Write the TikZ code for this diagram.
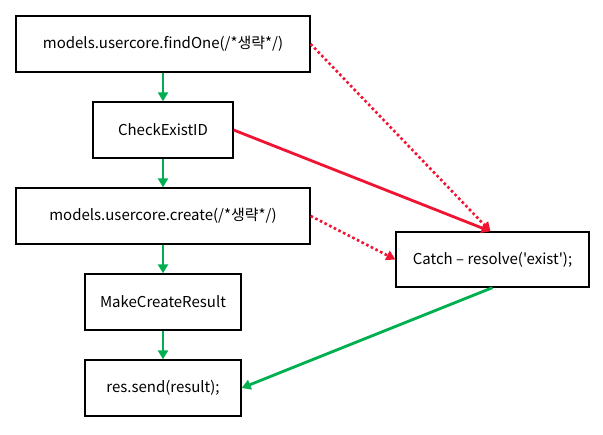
\documentclass[tikz,border=0pt]{standalone}
\usepackage{fontspec}
\setmainfont{Noto Sans CJK KR}[Ligatures=TeXOff]
\usetikzlibrary{arrows.meta}
\definecolor{ogreen}{RGB}{0,176,80}
\definecolor{ored}{RGB}{240,20,50}
\begin{document}
\begin{tikzpicture}[x=1pt,y=-1pt,
  box/.style={draw=black,line width=1.3pt,fill=white,minimum height=56pt,inner sep=0pt,font=\fontsize{15}{18}\selectfont},
  garrow/.style={draw=ogreen,line width=2.8pt,-{Triangle[length=9pt,width=10pt]}},
  rarrow/.style={draw=ored,line width=2.8pt,-{Triangle[length=9pt,width=10pt]}},
  rdot/.style={draw=ored,line width=2.6pt,dash pattern=on 2.6pt off 2.6pt,-{Triangle[length=9pt,width=10pt]}}]
\useasboundingbox (0,0) rectangle (603,435);
\node[box,minimum width=294pt] (b1) at (163,44) {models.usercore.findOne(/*생략*/)};
\node[box,minimum width=140pt] (b2) at (163,130) {CheckExistID};
\node[box,minimum width=294pt] (b3) at (163,216) {models.usercore.create(/*생략*/)};
\node[box,minimum width=156pt] (b4) at (163,302) {MakeCreateResult};
\node[box,minimum width=156pt] (b5) at (163,388) {res.send(result);};
\node[box,minimum width=193pt,minimum height=55pt] (c) at (492.5,259.5) {Catch – resolve('exist');};
\draw[garrow] (b1.south) -- (b2.north);
\draw[garrow] (b2.south) -- (b3.north);
\draw[garrow] (b3.south) -- (b4.north);
\draw[garrow] (b4.south) -- (b5.north);
\draw[rdot] (b1.east) -- ([xshift=-2pt]c.north);
\draw[rarrow] (b2.east) -- ([xshift=-2pt]c.north);
\draw[rdot] (b3.east) -- (c.west);
\draw[garrow] (c.south) -- (b5.east);
\end{tikzpicture}
\end{document}
